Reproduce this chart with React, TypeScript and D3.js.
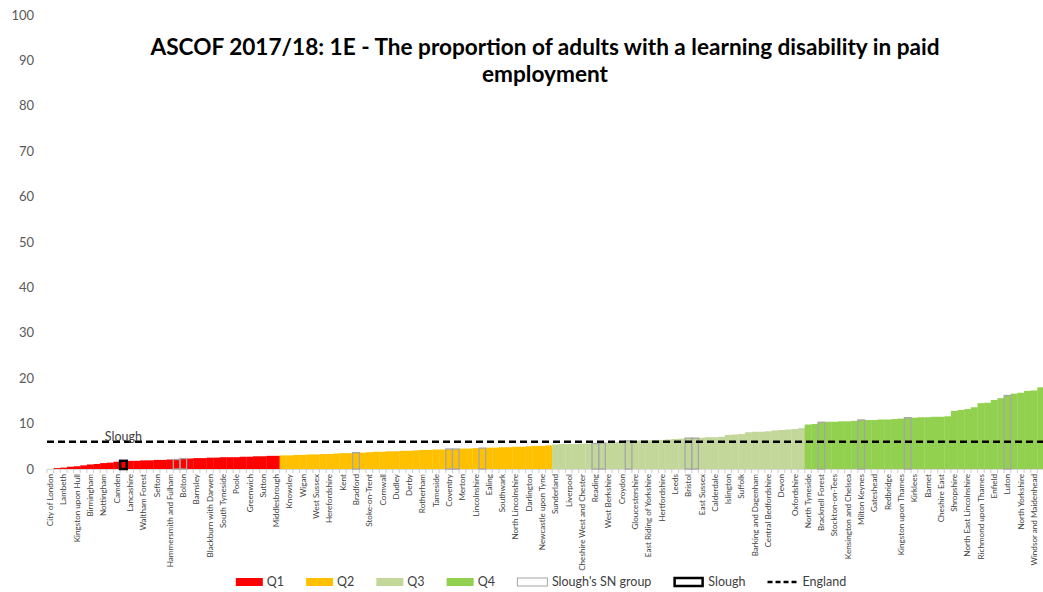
import React, { useEffect, useRef } from "react";
import { select, scaleBand, scaleLinear, axisBottom, axisLeft, range } from "d3";

const WIDTH = 1043;
const HEIGHT = 592;
const FONT = "Lato, 'Open Sans', sans-serif";

// every second council is labelled on the x axis, as in the original chart
const tickLabels = [
  "City of London", "Lambeth", "Kingston upon Hull", "Birmingham", "Nottingham", "Camden",
  "Lancashire", "Waltham Forest", "Sefton", "Hammersmith and Fulham", "Bolton", "Barnsley",
  "Blackburn with Darwen", "South Tyneside", "Poole", "Greenwich", "Sutton", "Middlesbrough",
  "Knowsley", "Wigan", "West Sussex", "Herefordshire", "Kent", "Bradford", "Stoke-on-Trent",
  "Cornwall", "Dudley", "Derby", "Rotherham", "Tameside", "Coventry", "Merton", "Lincolnshire",
  "Ealing", "Southwark", "North Lincolnshire", "Darlington",
  "Newcastle upon Tyne", "Sunderland", "Liverpool", "Cheshire West and Chester", "Reading",
  "West Berkshire", "Croydon", "Gloucestershire", "East Riding of Yorkshire", "Hertfordshire",
  "Leeds", "Bristol", "East Sussex", "Calderdale", "Islington", "Suffolk", "Barking and Dagenham",
  "Central Bedfordshire",
  "Devon", "Oxfordshire", "North Tyneside", "Bracknell Forest", "Stockton-on-Tees",
  "Kensington and Chelsea", "Milton Keynes", "Gateshead", "Redbridge", "Kingston upon Thames",
  "Kirklees", "Barnet", "Cheshire East", "Shropshire", "North East Lincolnshire",
  "Richmond upon Thames", "Enfield", "Luton", "North Yorkshire", "Windsor and Maidenhead",
];

// % of adults with a learning disability in paid employment, sorted ascending (150 councils)
const values = [
  // Q1
  0.0, 0.2, 0.3, 0.5, 0.6, 0.8, 1.0, 1.1, 1.3, 1.4, 1.6, 1.8, 1.8, 1.8, 1.9, 1.9, 2.0, 2.0,
  2.1, 2.1, 2.3, 2.3, 2.4, 2.4, 2.5, 2.5, 2.6, 2.6, 2.6, 2.7, 2.7, 2.8, 2.8, 2.9, 2.9,
  // Q2
  3.0, 3.0, 3.1, 3.1, 3.2, 3.2, 3.3, 3.3, 3.4, 3.5, 3.5, 3.6, 3.6, 3.7, 3.8, 3.8, 3.9, 3.9,
  4.0, 4.0, 4.1, 4.2, 4.2, 4.3, 4.3, 4.4, 4.4, 4.5, 4.5, 4.6, 4.6, 4.7, 4.7, 4.8, 4.8, 4.9,
  4.9, 5.0, 5.1, 5.1, 5.2,
  // Q3
  5.4, 5.5, 5.5, 5.5, 5.6, 5.6, 5.6, 5.7, 5.8, 5.9, 6.0, 6.2, 6.2, 6.3, 6.3, 6.4, 6.4, 6.5,
  6.6, 6.7, 6.8, 6.8, 6.9, 7.0, 7.0, 7.1, 7.5, 7.6, 7.7, 8.1, 8.2, 8.2, 8.3, 8.5, 8.6, 8.7,
  8.8, 9.0,
  // Q4
  9.8, 9.9, 10.3, 10.4, 10.4, 10.5, 10.5, 10.6, 10.8, 10.8, 10.8, 10.9, 10.9, 11.0, 11.1,
  11.3, 11.3, 11.4, 11.4, 11.5, 11.5, 11.6, 12.8, 13.0, 13.2, 13.6, 14.5, 14.6, 15.2, 15.6,
  16.2, 16.6, 16.8, 17.2, 17.3, 18.0,
];

const quartileBreaks = [35, 76, 114]; // first bar of Q2, Q3, Q4
const quartileNames = ["Q1", "Q2", "Q3", "Q4"];
const quartileColors = ["#ff0000", "#ffc000", "#c4d79b", "#92d050"];
const snGroup = [19, 20, 46, 60, 61, 65, 82, 83, 87, 96, 97, 116, 122, 129, 144];
const sloughIndex = 11;
const englandValue = 6.0;
const yTicks = [0, 10, 20, 30, 40, 50, 60, 70, 80, 90, 100];

const quartileOf = (i) => quartileBreaks.filter(b => i >= b).length;

export default function App() {
  const svgRef = useRef(null);

  useEffect(() => {
    const svg = select(svgRef.current);
    svg.selectAll("*").remove();

    const x = scaleBand()
    .domain(range(values.length))
    .range([47, 1044])
    .padding(0);

    const y = scaleLinear()
    .domain([0, 100])
    .range([469, 15]);

    const bw = x.bandwidth();

    // title
    const title = svg.append("text")
    .attr("x", 545)
    .attr("text-anchor", "middle")
    .attr("font-family", FONT)
    .attr("font-weight", "bold")
    .attr("font-size", 22.6)
    .attr("fill", "#000");
    title.append("tspan").attr("x", 545).attr("y", 55)
    .text("ASCOF 2017/18: 1E - The proportion of adults with a learning disability in paid");
    title.append("tspan").attr("x", 545).attr("y", 82).text("employment");

    // y axis (labels only)
    const yAxis = svg.append("g")
    .attr("transform", "translate(47,0)")
    .call(axisLeft(y).tickValues(yTicks).tickSize(0).tickPadding(13));
    yAxis.select(".domain").remove();
    yAxis.selectAll("text")
    .attr("font-family", FONT)
    .attr("font-size", 13)
    .attr("fill", "#595959");

    // bars
    svg.append("g")
    .selectAll("rect")
    .data(values)
    .join("rect")
    .attr("x", (d, i) => x(i))
    .attr("y", d => y(d))
    .attr("width", bw + 0.3)
    .attr("height", d => y(0) - y(d))
    .attr("fill", (d, i) => quartileColors[quartileOf(i)]);

    // x axis
    const xAxis = svg.append("g")
    .attr("transform", `translate(0,${ y(0) })`)
    .call(axisBottom(x)
      .tickValues(range(0, values.length, 2))
      .tickFormat(i => tickLabels[i / 2])
      .tickSize(0));
    xAxis.select(".domain").attr("stroke", "#d9d9d9");
    xAxis.selectAll("text")
    .attr("transform", "rotate(-90)")
    .attr("x", -5)
    .attr("y", 0)
    .attr("dy", "0.35em")
    .attr("text-anchor", "end")
    .attr("font-family", FONT)
    .attr("font-size", 8.1)
    .attr("fill", "#404040");
    xAxis.selectAll(".bound")
    .data(range(values.length + 1))
    .join("line")
    .attr("class", "bound")
    .attr("x1", i => 47 + i * bw)
    .attr("x2", i => 47 + i * bw)
    .attr("y1", 0)
    .attr("y2", 4)
    .attr("stroke", "#bfbfbf")
    .attr("stroke-width", 0.8);

    // Slough's statistical neighbours
    svg.append("g")
    .selectAll("rect")
    .data(snGroup)
    .join("rect")
    .attr("x", i => x(i))
    .attr("y", i => y(values[i]))
    .attr("width", bw)
    .attr("height", i => y(0) - y(values[i]))
    .attr("fill", "none")
    .attr("stroke", "#a6a6a6")
    .attr("stroke-width", 1.3);

    // Slough
    svg.append("rect")
    .attr("x", x(sloughIndex))
    .attr("y", y(values[sloughIndex]))
    .attr("width", bw)
    .attr("height", y(0) - y(values[sloughIndex]))
    .attr("fill", "none")
    .attr("stroke", "#000")
    .attr("stroke-width", 2.5);

    // England average
    svg.append("line")
    .attr("x1", 47)
    .attr("x2", WIDTH)
    .attr("y1", y(englandValue))
    .attr("y2", y(englandValue))
    .attr("stroke", "#000")
    .attr("stroke-width", 2.6)
    .attr("stroke-dasharray", "7,4");

    svg.append("text")
    .attr("x", x(sloughIndex) + bw / 2)
    .attr("y", y(englandValue) - 1)
    .attr("text-anchor", "middle")
    .attr("font-family", FONT)
    .attr("font-size", 12.5)
    .attr("fill", "#404040")
    .text("Slough");

    // legend
    const legendItems = [
      ...quartileNames.map((n, i) => ({label: n, kind: "fill", color: quartileColors[i]})),
      {label: "Slough's SN group", kind: "sn"},
      {label: "Slough", kind: "slough"},
      {label: "England", kind: "england"},
    ];
    const legend = svg.append("g");
    const ly = 582;
    const gap = 22;
    let cx = 0;
    legendItems.forEach(item => {
      const g = legend.append("g").attr("transform", `translate(${ cx },0)`);
      if (item.kind === "fill") {
        g.append("rect").attr("x", 0).attr("y", ly - 4).attr("width", 27).attr("height", 8)
        .attr("fill", item.color);
      } else if (item.kind === "sn") {
        g.append("rect").attr("x", 0.5).attr("y", ly - 4).attr("width", 30).attr("height", 8)
        .attr("fill", "#fff").attr("stroke", "#a6a6a6").attr("stroke-width", 1);
      } else if (item.kind === "slough") {
        g.append("rect").attr("x", 1.25).attr("y", ly - 4).attr("width", 28).attr("height", 8)
        .attr("fill", "#fff").attr("stroke", "#000").attr("stroke-width", 2.5);
      } else {
        g.append("line").attr("x1", 0).attr("x2", 31).attr("y1", ly).attr("y2", ly)
        .attr("stroke", "#000").attr("stroke-width", 2.5).attr("stroke-dasharray", "5,3");
      }
      const sw = item.kind === "fill" ? 27 : 31;
      const t = g.append("text")
      .attr("x", sw + 4)
      .attr("y", ly)
      .attr("dy", "0.35em")
      .attr("font-family", FONT)
      .attr("font-size", 12.5)
      .attr("fill", "#404040")
      .text(item.label);
      const tw = (t.node() as SVGTextElement).getComputedTextLength();
      cx += sw + 4 + tw + gap;
    });
    const total = cx - gap;
    legend.attr("transform", `translate(${ 541 - total / 2 },0)`);
  }, []);

  return (
    <svg
      ref={ svgRef }
      width={ WIDTH }
      height={ HEIGHT }
      style={ {position: "absolute", left: 0, top: 0, background: "#fff"} }
    />
  );
}
